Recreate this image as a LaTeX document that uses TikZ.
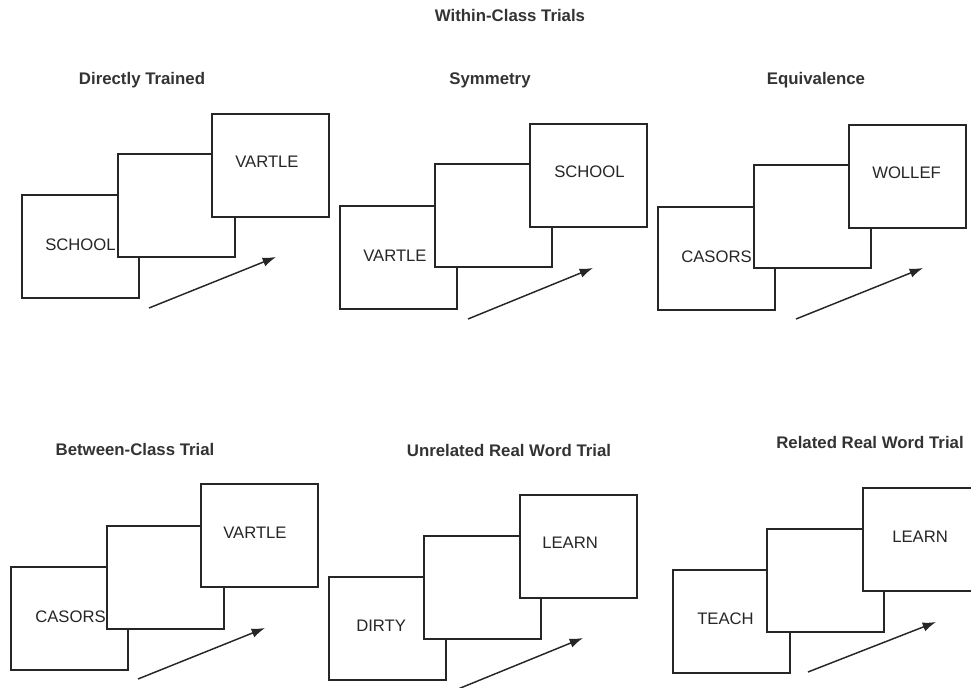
\documentclass[tikz,border=0pt]{standalone}
\usepackage{fontspec}
\setmainfont{Liberation Sans}
\usetikzlibrary{arrows.meta,calc}
\tikzset{
  card/.style={draw=black!85, line width=1.6pt, fill=white, minimum width=87.75pt, minimum height=77.25pt, inner sep=0pt, anchor=north west},
  word/.style={font=\fontsize{12.5}{14}\selectfont, text=black!85, anchor=west, inner sep=0pt},
  ttl/.style={font=\bfseries\fontsize{12.6}{15}\selectfont, text=black!80, inner sep=0pt, anchor=base},
  trialarrow/.style={line width=1.1pt, draw=black!85, -{Latex[length=10pt,width=7pt]}},
}
\begin{document}
\begin{tikzpicture}[x=0.75pt,y=-0.75pt]
\useasboundingbox (0,0) rectangle (971,688);
\clip (0,0) rectangle (971,688);

% titles
\node[ttl] (tmain) at (510,22) {Within-Class Trials};
\node[ttl] (t1) at (142,85) {Directly Trained};
\node[ttl] (t2) at (490,85) {Symmetry};
\node[ttl] (t3) at (816,85) {Equivalence};
\node[ttl] (t4) at (135,455) {Between-Class Trial};
\node[ttl] (t5) at (509,456) {Unrelated Real Word Trial};
\node[ttl] (t6) at (870,448) {Related Real Word Trial};

% Panel 1
\node[card] (p1a) at (21,194) {};
\node[word] (p1aw) at ($(p1a.west)+(24,-2)$) {SCHOOL};
\node[card] (p1b) at (117,153) {};
\node[card] (p1c) at (211,113) {};
\node[word] (p1cw) at ($(p1c.north west)+(24,49)$) {VARTLE};
\coordinate (p1s) at (149,308); \coordinate (p1e) at (276,257);
\draw[trialarrow] (p1s) -- (p1e);

% Panel 2
\node[card] (p2a) at (339,205) {};
\node[word] (p2aw) at ($(p2a.west)+(24,-2)$) {VARTLE};
\node[card] (p2b) at (434,163) {};
\node[card] (p2c) at (529,123) {};
\node[word] (p2cw) at ($(p2c.north west)+(25,49)$) {SCHOOL};
\coordinate (p2s) at (468,319); \coordinate (p2e) at (593,268);
\draw[trialarrow] (p2s) -- (p2e);

% Panel 3
\node[card] (p3a) at (657,206) {};
\node[word] (p3aw) at ($(p3a.west)+(24,-2)$) {CASORS};
\node[card] (p3b) at (753,164) {};
\node[card] (p3c) at (848,124) {};
\node[word] (p3cw) at ($(p3c.north west)+(24,49)$) {WOLLEF};
\coordinate (p3s) at (796,319); \coordinate (p3e) at (923,268);
\draw[trialarrow] (p3s) -- (p3e);

% Panel 4
\node[card] (p4a) at (10,566) {};
\node[word] (p4aw) at ($(p4a.west)+(25,-2)$) {CASORS};
\node[card] (p4b) at (106,525) {};
\node[card] (p4c) at (200,483) {};
\node[word] (p4cw) at ($(p4c.north west)+(23,50)$) {VARTLE};
\coordinate (p4s) at (138,679); \coordinate (p4e) at (265,628);
\draw[trialarrow] (p4s) -- (p4e);

% Panel 5
\node[card] (p5a) at (328,576) {};
\node[word] (p5aw) at ($(p5a.west)+(28,-3)$) {DIRTY};
\node[card] (p5b) at (423,535) {};
\node[card] (p5c) at (519,494) {};
\node[word] (p5cw) at ($(p5c.north west)+(23,49)$) {LEARN};
\coordinate (p5s) at (458,689); \coordinate (p5e) at (583,638);
\draw[trialarrow] (p5s) -- (p5e);

% Panel 6
\node[card] (p6a) at (672,569) {};
\node[word] (p6aw) at ($(p6a.west)+(25,-3)$) {TEACH};
\node[card] (p6b) at (766,528) {};
\node[card] (p6c) at (862,487) {};
\node[word] (p6cw) at ($(p6c.north west)+(30,50)$) {LEARN};
\coordinate (p6s) at (808,672); \coordinate (p6e) at (936,622);
\draw[trialarrow] (p6s) -- (p6e);
\end{tikzpicture}
\end{document}
